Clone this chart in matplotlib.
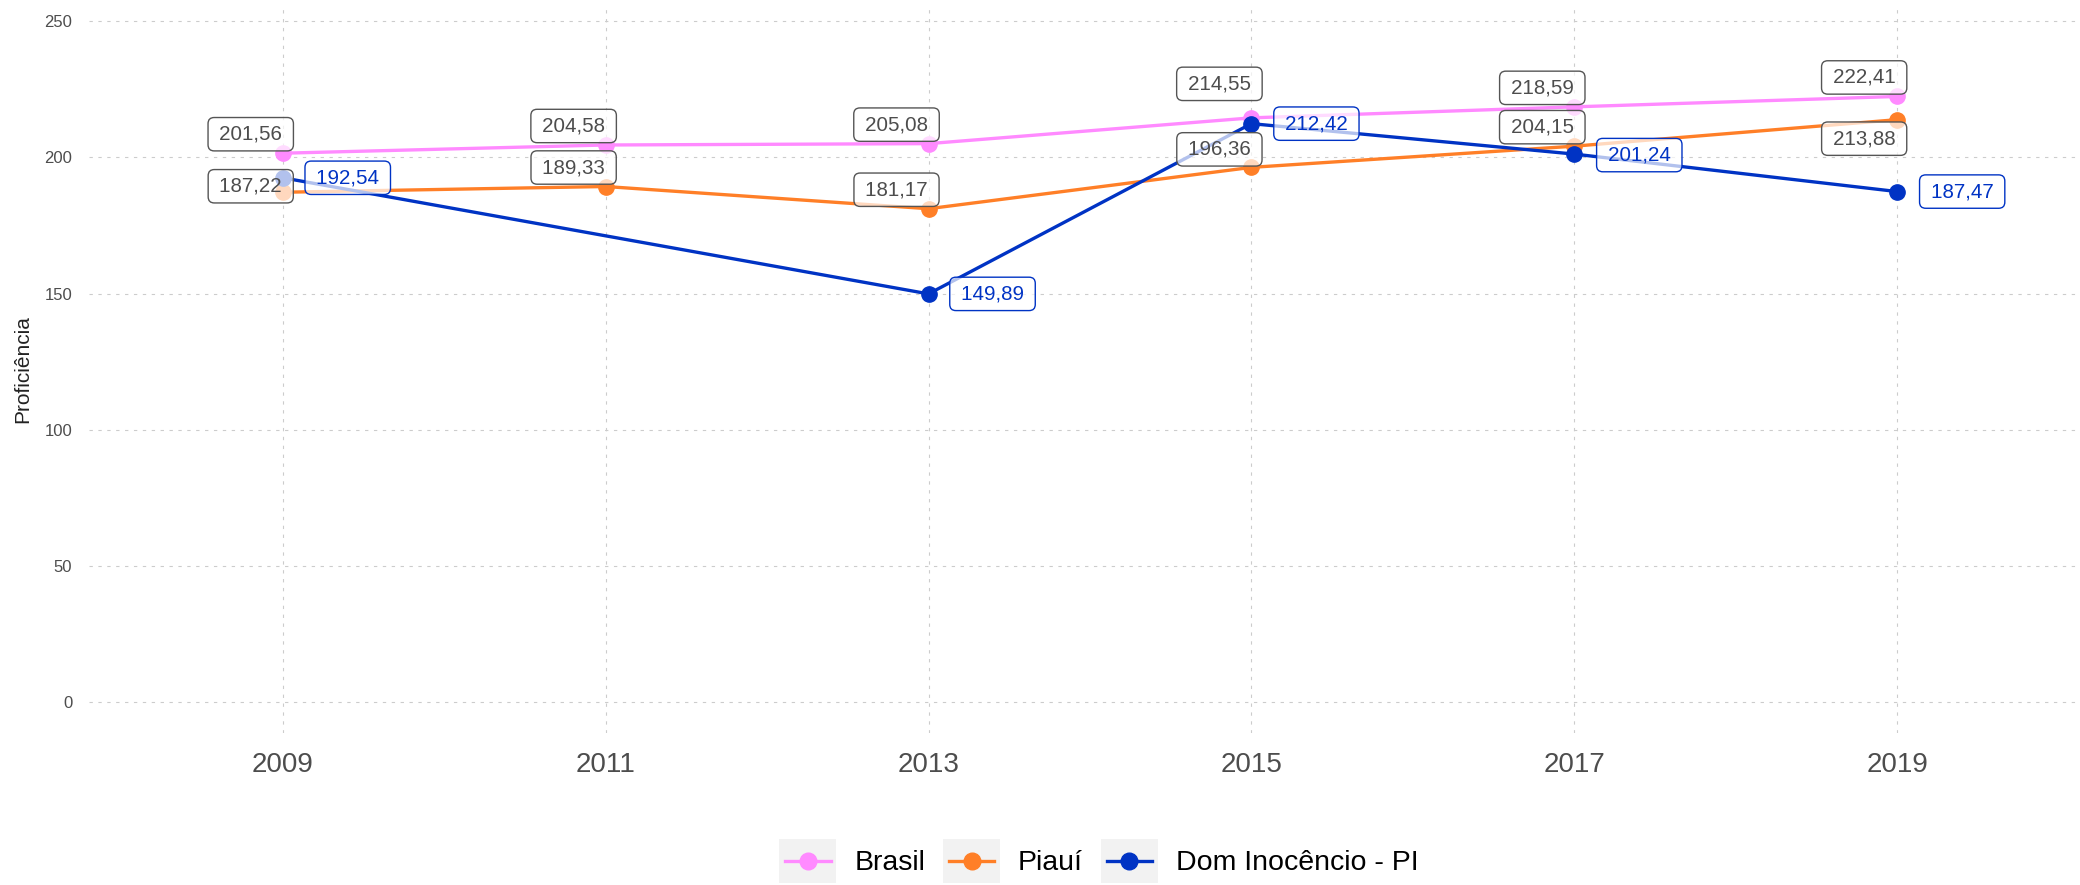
import matplotlib
matplotlib.use("Agg")
import matplotlib.pyplot as plt
from matplotlib.legend_handler import HandlerBase
from matplotlib.patches import Rectangle
from matplotlib.lines import Line2D

# data
anos = [2009, 2011, 2013, 2015, 2017, 2019]
series = ["Brasil", "Piauí", "Dom Inocêncio - PI"]
brasil = [201.56, 204.58, 205.08, 214.55, 218.59, 222.41]
piaui = [187.22, 189.33, 181.17, 196.36, 204.15, 213.88]
dom = [192.54, 149.89, 212.42, 201.24, 187.47]
anos_dom = [2009, 2013, 2015, 2017, 2019]

cores = ["#FF8AFF", "#FF7F27", "#0033C4"]

# label offsets in pixels (dx, dy with y down), as placed in the reference
off_brasil = [(-32, -19), (-32, -19), (-32, -19), (-32, -34), (-32, -19), (-33, -19)]
off_piaui = [(-32, -6), (-32, -19), (-32, -19), (-32, -18), (-32, -19), (-33, 19)]
off_dom = [(65, 0), (64, 0), (65, 0), (65, 1), (65, 0)]

plt.rcParams['font.family'] = ['Liberation Sans', 'DejaVu Sans']

fig = plt.figure(figsize=(20.8, 8.85), dpi=100)
ax = fig.add_axes([89/2080, 1 - 733/885, (2078 - 89)/2080, (733 - 5)/885])

dados = [(anos, brasil, off_brasil), (anos, piaui, off_piaui), (anos_dom, dom, off_dom)]

handles = []
for (xs, ys, offs), nome, cor in zip(dados, series, cores):
    h, = ax.plot(xs, ys, color=cor, lw=2.4, marker='o', ms=11, zorder=3, label=nome)
    handles.append(h)

# value labels (ggrepel-like boxes, drawn above everything)
for i, ((xs, ys, offs), cor) in enumerate(zip(dados, cores)):
    if i < 2:
        txt_cor, borda = "#4d4d4d", "#555555"
    else:
        txt_cor, borda = cor, cor
    for x, y, (dx, dy) in zip(xs, ys, offs):
        rotulo = "\u2009" + f"{y:.2f}".replace(".", ",") + "\u2009"
        ax.annotate(rotulo, (x, y), xytext=(dx, -dy),
                    textcoords='offset pixels', ha='center', va='center',
                    fontsize=14.8, color=txt_cor, zorder=10,
                    bbox=dict(boxstyle='round,pad=0.35,rounding_size=0.3',
                              fc=(1, 1, 1, 0.7), ec=borda, lw=1.0))

ax.set_xlim(2007.8, 2020.12)
ax.set_ylim(-11.4, 256)
ax.set_xticks(anos)
ax.set_yticks([0, 50, 100, 150, 200, 250])
ax.tick_params(axis='x', length=0, pad=14, labelsize=20, labelcolor='#4d4d4d')
ax.tick_params(axis='y', length=0, pad=12, labelsize=12, labelcolor='#4d4d4d')
for s in ax.spines.values():
    s.set_visible(False)
ax.grid(True, color='#cccccc', lw=0.8, linestyle=(0, (3, 5)))
ax.set_axisbelow(True)

fig.text(23/2080, 1 - 369/885, "Proficiência", rotation=90, fontsize=15,
         color='#222222', ha='center', va='center')


class KeyHandler(HandlerBase):
    def create_artists(self, legend, orig, xdescent, ydescent, width, height, fontsize, trans):
        bg = Rectangle((-xdescent, -ydescent), width, height, facecolor='#f2f2f2',
                       edgecolor='none', transform=trans)
        yc = -ydescent + height / 2
        ln = Line2D([-xdescent + 0.1 * width, -xdescent + 0.9 * width], [yc, yc],
                    color=orig.get_color(), lw=2.4, transform=trans)
        mk = Line2D([-xdescent + width / 2], [yc], marker='o', ms=12, color=orig.get_color(),
                    lw=0, transform=trans)
        return [bg, ln, mk]


leg = fig.legend(handles, series, loc='center', bbox_to_anchor=(1099/2080, 1 - 861/885),
                 ncol=3, frameon=False, handler_map={h: KeyHandler() for h in handles},
                 prop={'size': 20.5}, handlelength=2.0, handleheight=2.0,
                 handletextpad=0.63, columnspacing=0.63, borderpad=0)

fig.savefig("out.png", dpi=100)
